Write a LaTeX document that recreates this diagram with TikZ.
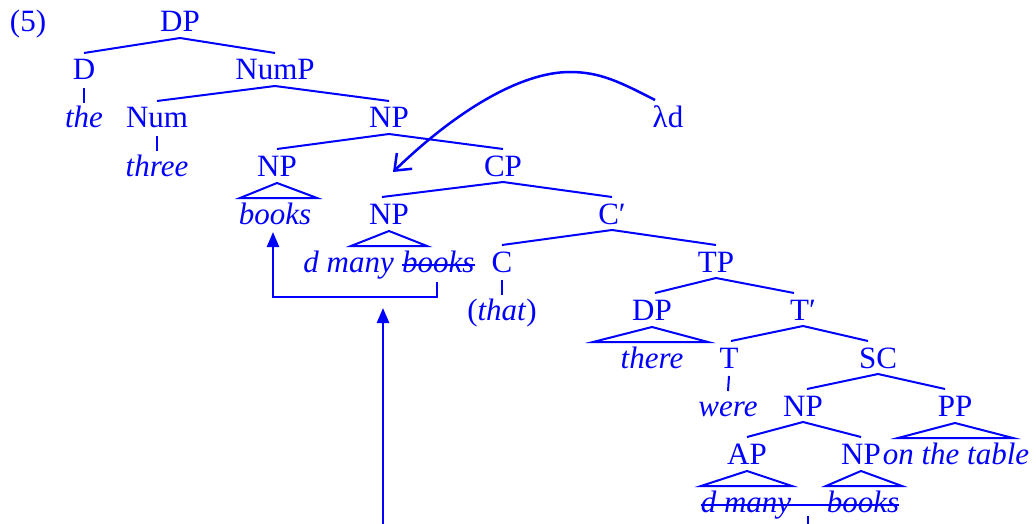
\documentclass[tikz,border=0pt]{standalone}
\usepackage{fontspec}
\setmainfont{Liberation Serif}
\usetikzlibrary{arrows.meta}
\definecolor{tb}{RGB}{0,0,255}
\newcommand\treebr[3][0pt]{\draw[tree] ([yshift=-6pt]#2.base) -- ([yshift=27pt,xshift=#1]#3.base);}
\newcommand\treeun[2]{\draw[tree] ([yshift=-8pt]#1.base) -- ([yshift=25pt]#2.base);}
\newcommand\trng[3]{\draw[tree,line join=miter] ([yshift=-7pt]#1.base) -- ([yshift=-22pt,xshift=#2]#1.base) -- ([yshift=-22pt,xshift=#3]#1.base) -- cycle;}
\begin{document}
\begin{tikzpicture}[x=1pt,y=-1pt,
  every node/.style={text=tb,inner sep=0pt,anchor=base,font=\fontsize{31}{37}\selectfont},
  tree/.style={draw=tb,line width=2pt},
  arr/.style={draw=tb,line width=2.5pt,-{Triangle[length=15pt,width=12pt]}},
  carr/.style={draw=tb,line width=2.5pt,-{Straight Barb[length=14pt,width=22pt]}},
  strike/.style={draw=tb,line width=2pt}]
\useasboundingbox (0,0) rectangle (1036,524);
% nodes
\node (n5) at (28,32) {(5)};
\node (dp) at (180,32) {DP};
\node (d) at (84,80) {D};
\node (nump) at (275,80) {NumP};
\node (the) at (84,128) {\textit{the}};
\node (num) at (157,128) {Num};
\node (np1) at (389,128) {NP};
\node (lam) at (668,128) {λd};
\node (three) at (157,176) {\textit{three}};
\node (np2) at (277,176) {NP};
\node (cp) at (503,176) {CP};
\node (books) at (275,224) {\textit{books}};
\node (np3) at (389,224) {NP};
\node (cbar) at (612,224) {C′};
\node[anchor=base east] (dm1) at (394,272) {\textit{d many}};
\node[anchor=base west] (bk1) at (402,272) {\textit{books}};
\node (c) at (502,272) {C};
\node (tp) at (716,272) {TP};
\node (that) at (502,320) {(\textit{that})};
\node (dp2) at (652,320) {DP};
\node (tbar) at (803,320) {T′};
\node (there) at (652,368) {\textit{there}};
\node (t) at (729,368) {T};
\node (sc) at (878,368) {SC};
\node (were) at (728,416) {\textit{were}};
\node (np4) at (803,416) {NP};
\node (pp) at (955,416) {PP};
\node (ap) at (747,464) {AP};
\node (np5) at (861,464) {NP};
\node (ott) at (956,464) {\textit{on the table}};
\node (dm2) at (746,512) {\textit{d many}};
\node (bk2) at (863,512) {\textit{books}};
% branches
\treebr{dp}{d}\treebr{dp}{nump}
\treebr{nump}{num}\treebr{nump}{np1}
\treebr{np1}{np2}\treebr{np1}{cp}
\treebr[-7pt]{cp}{np3}\treebr{cp}{cbar}
\treebr{cbar}{c}\treebr{cbar}{tp}
\treebr[3pt]{tp}{dp2}\treebr[-9pt]{tp}{tbar}
\treebr[2pt]{tbar}{t}\treebr[-10pt]{tbar}{sc}
\treebr[4pt]{sc}{np4}\treebr[-10pt]{sc}{pp}
\treebr{np4}{ap}\treebr{np4}{np5}
\treeun{d}{the}\treeun{num}{three}\treeun{c}{that}\treeun{t}{were}
% triangles
\trng{np2}{-37pt}{40pt}
\trng{np3}{-38pt}{38pt}
\trng{dp2}{-59pt}{56pt}
\trng{pp}{-57pt}{58pt}
\trng{ap}{-46pt}{45pt}
\trng{np5}{-35pt}{41pt}
% strikes
\draw[strike] ([yshift=7pt]bk1.base west) -- ([yshift=7pt]bk1.base east);
\draw[strike] ([yshift=7pt]dm2.base west) -- ([yshift=7pt]bk2.base east);
\coordinate (st) at (808,516);
\draw[tree] (st) -- ++(0,12);
% arrows
\coordinate (bra) at (437,282);
\draw[arr] (bra) -- ++(0,15) -| ([yshift=-8pt,xshift=-2pt]books.base);
\coordinate (vb) at (383,530);
\coordinate (vt) at (383,308);
\draw[arr] (vb) -- (vt);
\coordinate (cs) at (655,100);
\coordinate (ce) at (393,172);
\draw[carr] (cs) .. controls (620,82) and (600,72) .. (570,72) .. controls (520,72) and (455,112) .. (ce);
\end{tikzpicture}
\end{document}
